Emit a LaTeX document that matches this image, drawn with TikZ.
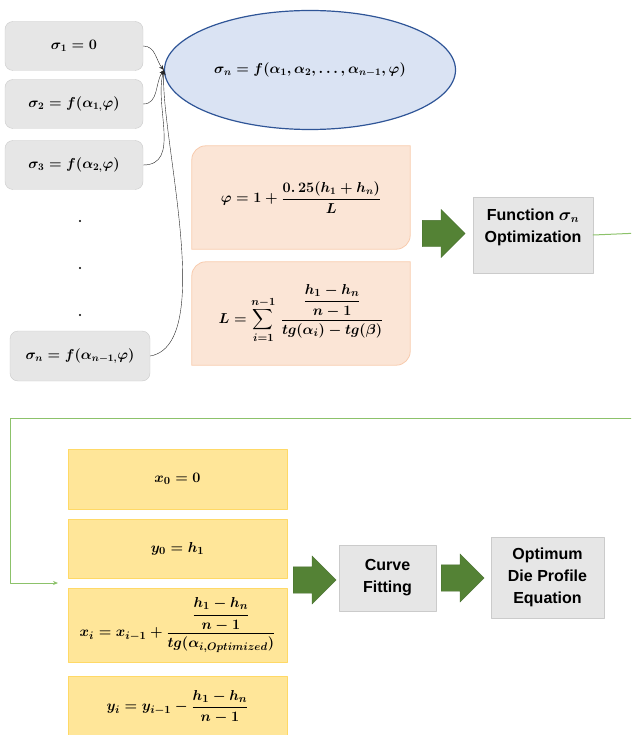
\documentclass[tikz,border=0pt]{standalone}
\usepackage{amsmath,bm}
\usepackage{fontspec}
\newfontfamily\arialf{Liberation Sans}
\usetikzlibrary{shapes.geometric,shapes.arrows,backgrounds,arrows.meta}
\definecolor{greybg}{HTML}{E6E6E6}
\definecolor{greyln}{HTML}{CBCBCB}
\definecolor{ellbg}{HTML}{DAE3F3}
\definecolor{ellln}{HTML}{2F5597}
\definecolor{peachbg}{HTML}{FBE5D6}
\definecolor{peachln}{HTML}{F8CBAD}
\definecolor{yellbg}{HTML}{FFE699}
\definecolor{yellln}{HTML}{FFD966}
\definecolor{flowgreen}{HTML}{8CC26A}
\definecolor{arrgreen}{HTML}{548235}
\begin{document}
\begin{tikzpicture}[x=1pt,y=-1pt,line join=round,line cap=round,
	mathfont/.style={font=\fontsize{14.5}{17}\selectfont\boldmath},
	greybox/.style={mathfont,draw=greyln,fill=greybg,rounded corners=8pt,minimum width=138pt,minimum height=49pt,inner sep=0pt},
	peachbox/.style={mathfont,minimum width=218pt,minimum height=103pt,inner sep=0pt},
	yellbox/.style={font=\fontsize{15}{18}\selectfont\boldmath,draw=yellln,fill=yellbg,minimum width=219pt,inner sep=0pt},
	textbox/.style={font=\fontsize{16}{22}\selectfont\arialf\bfseries\boldmath,draw=greyln,fill=greybg,align=center,inner sep=0pt},
	bigarrow/.style={single arrow,anchor=tail,draw=arrgreen!85!black,fill=arrgreen,minimum height=43pt,minimum width=48pt,single arrow head extend=11pt,inner xsep=0pt,inner ysep=13pt},
	link/.style={draw=black!85,-{Stealth[length=5pt,width=4pt]}},
	flow/.style={draw=flowgreen,line width=1pt}]
	\clip (0,0) rectangle (631,735);
	\node[greybox] (s1) at (74,46) {$\sigma_1=0$};
	\node[greybox] (s2) at (74,104) {$\sigma_2=f(\alpha_{1,}\varphi)$};
	\node[greybox] (s3) at (74,165) {$\sigma_3=f(\alpha_{2,}\varphi)$};
	\node[greybox,minimum width=140pt,minimum height=50pt] (sn) at (80,356) {$\sigma_n=f(\alpha_{n-1,}\varphi)$};
	\foreach \y in {221,268,315} \fill (80,\y) circle (1.1pt);
	\node[ellipse,mathfont,draw=ellln,fill=ellbg,line width=1.2pt,minimum width=291pt,minimum height=119pt] (sig) at (310,70) {$\sigma_n=f(\alpha_1,\alpha_2,\dots,\alpha_{n-1},\varphi)$};
	\draw[link] (s1.east) to[out=0,in=130] (sig.west);
	\draw[link] (s2.east) to[out=0,in=-125] (sig.west);
	\draw[link] (s3.east) to[out=0,in=-105] (sig.west);
	\draw[link] (sn.east) to[out=10,in=-93,looseness=0.6] (sig.west);
	\node[peachbox] (phi) at (301,197.5) {$\varphi=1+\dfrac{0.\,25(h_1+h_n)}{L}$};
	\node[peachbox,font=\fontsize{15.5}{18}\selectfont\boldmath] (len) at (301,313.5) {$L=\displaystyle\sum_{i=1}^{n-1}\,\frac{\dfrac{h_1-h_n}{n-1}}{tg(\alpha_i)-tg(\beta)}$};
	\begin{scope}[on background layer]
		\foreach \n in {phi,len}
		\draw[draw=peachln,fill=peachbg,line width=0.8pt] (\n.south west) [rounded corners=14pt]-- (\n.north west) [sharp corners]-- (\n.north east) [rounded corners=14pt]-- (\n.south east) [sharp corners]-- cycle;
	\end{scope}
	\node[bigarrow] (a1) at (422,233.5) {};
	\node[textbox,minimum width=120pt,minimum height=76pt] (fn) at (533,235) {};
	\node[font=\fontsize{16}{22}\selectfont\arialf\bfseries\boldmath,align=center] (fntxt) at (533,227) {Function $\sigma_n$\\Optimization};
	\coordinate (outR) at (640,233);
	\coordinate (inR) at (640,418);
	\coordinate (bend) at (10,418);
	\coordinate (entry) at (58,583);
	\draw[flow] (fn.east) -- (outR);
	\draw[flow,-{Stealth[length=5pt,width=4pt]}] (inR) -- (bend) |- (entry);
	\node[yellbox,minimum height=60pt] (x0) at (177.5,479) {$x_0=0$};
	\node[yellbox,minimum height=59pt] (y0) at (177.5,548.5) {$y_0=h_1$};
	\node[yellbox,minimum height=74pt] (xi) at (177.5,625) {$x_i=x_{i-1}+\dfrac{\dfrac{h_1-h_n}{n-1}}{tg(\alpha_{i,Optimized})}$};
	\node[yellbox,minimum height=62pt] (yi) at (177.5,707) {$y_i=y_{i-1}-\dfrac{h_1-h_n}{n-1}$};
	\node[bigarrow] (a2) at (293,580) {};
	\node[textbox,minimum width=97pt,minimum height=66pt] (cf) at (387.5,578) {Curve\\Fitting};
	\node[bigarrow] (a3) at (441,578) {};
	\node[textbox,minimum width=113pt,minimum height=81pt] (opt) at (547.5,577.5) {Optimum\\Die Profile\\Equation};
\end{tikzpicture}
\end{document}
